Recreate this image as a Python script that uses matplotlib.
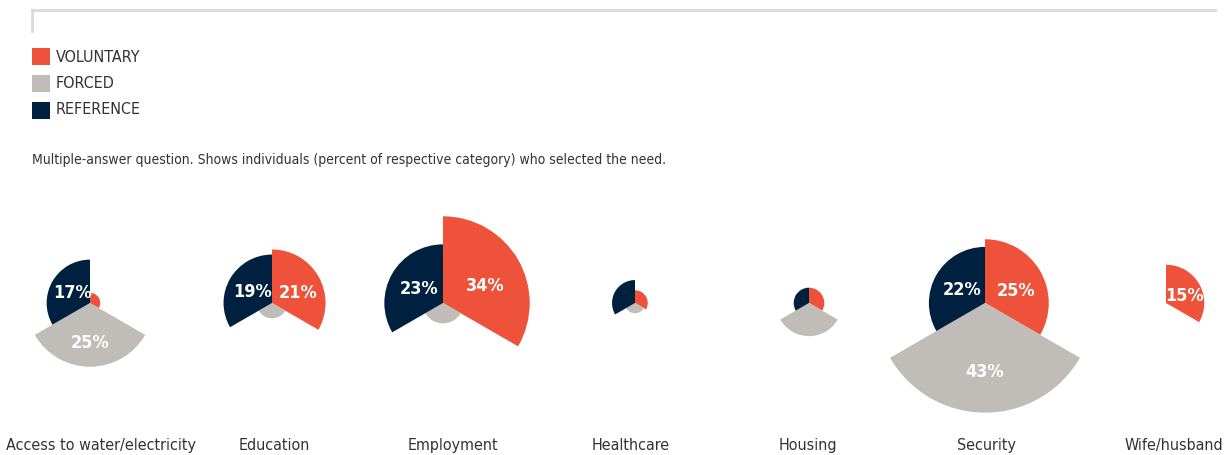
import matplotlib
matplotlib.use('Agg')
import matplotlib.pyplot as plt
import numpy as np
from matplotlib.patches import Rectangle
from matplotlib.lines import Line2D

plt.rcParams['font.family'] = ['DejaVu Sans']
plt.rcParams['font.stretch'] = 'condensed'

# share of each group (%) that selected the need
categories = ['Access to water/electricity', 'Education', 'Employment', 'Healthcare',
              'Housing', 'Security', 'Wife/husband']
voluntary = [4, 21, 34, 5, 6, 25, 15]
forced = [25, 6, 8, 4, 13, 43, 0]
reference = [17, 19, 23, 9, 6, 22, 0]

series_names = ['VOLUNTARY', 'FORCED', 'REFERENCE']
colors = ['#EE523A', '#C0BDB9', '#00203F']
note = 'Multiple-answer question. Shows individuals (percent of respective category) who selected the need.'

W, H = 1230, 455
fig = plt.figure(figsize=(W / 100, H / 100), dpi=100)

# thin frame line at the top
fig.add_artist(Line2D([32 / W, 1215 / W], [1 - 10 / H, 1 - 10 / H], color='#DADADA', lw=2))
fig.add_artist(Line2D([32 / W, 32 / W], [1 - 10 / H, 1 - 31 / H], color='#DADADA', lw=2))

# legend
for k, name in enumerate(series_names):
    yc = 57 + k * 26.5
    fig.add_artist(Rectangle((32 / W, 1 - (yc + 8.5) / H), 18 / W, 17 / H,
                             color=colors[k], lw=0, transform=fig.transFigure))
    fig.text(56 / W, 1 - yc / H, name, va='center', ha='left', fontsize=11.5, color='#333333')

fig.text(32 / W, 1 - 160 / H, note, va='center', ha='left', fontsize=10, color='#333333')

# one small polar chart per need
centers_x = [90, 272, 443, 635, 809, 985, 1166]
label_x = [101, 274, 453, 631, 808, 986, 1174]
cy = 303
rmax = 50
size = 255  # px across, so 1% = 2.55 px of radius

theta = np.radians([60, 180, 300])
label_pos = [(68, 0.52), (180, 0.63), (300, 0.47)]

for i, cat in enumerate(categories):
    ax = fig.add_axes([(centers_x[i] - size / 2) / W, (H - cy - size / 2) / H, size / W, size / H],
                      projection='polar')
    ax.set_theta_zero_location('N')
    ax.set_theta_direction(-1)
    vals = [voluntary[i], forced[i], reference[i]]
    ax.bar(theta, vals, width=np.radians(120), color=colors, linewidth=0, align='center')
    ax.set_ylim(0, rmax)
    ax.set_axis_off()
    ax.patch.set_alpha(0)
    for v, (ang, frac) in zip(vals, label_pos):
        if v >= 15:
            ax.text(np.radians(ang), v * frac, f'{v}%', ha='center', va='center',
                    color='white', fontweight='bold', fontsize=13)
    fig.text(label_x[i] / W, 1 - 450 / H, cat, ha='center', va='baseline', fontsize=11.5, color='#333333')

fig.savefig('out.png', dpi=100)
